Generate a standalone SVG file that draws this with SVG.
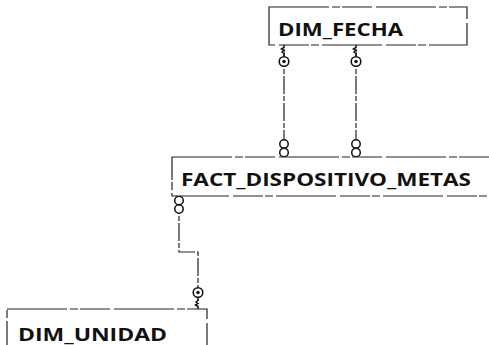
<svg xmlns="http://www.w3.org/2000/svg" width="489" height="345" viewBox="0 0 489 345">
<style>
.box{fill:#fff;stroke:#222;stroke-width:1.2;stroke-dasharray:60 3 8 2 30 4}
.lbl{font-family:"Open Sans","Liberation Sans",sans-serif;font-weight:bold;font-size:18px;fill:#111}
.ln{fill:none;stroke:#222;stroke-width:1.2;stroke-dasharray:18 2 5 2}
.sym{fill:#fff;stroke:#111;stroke-width:1.5}
.dot{fill:#111}
</style>
<defs>
<g id="keyDown">
<path class="sym" d="M0,0 v2.5 l-2.5,1.5 l2.5,1.5 l-2,1.5 l2,1.5 v3.5" fill="none"/>
<circle class="sym" cx="0" cy="16.5" r="4.8"/>
<circle class="dot" cx="0" cy="16.5" r="1.7"/>
</g>
<g id="many">
<circle class="sym" cx="0" cy="-13" r="4.2"/>
<circle class="sym" cx="0" cy="-4.5" r="4.3"/>
</g>
</defs>
<g id="connectors">
<path class="ln" d="M284,49 V157"/>
<path class="ln" d="M356,49 V157"/>
<path class="ln" d="M179,196 V252 H198 V292"/>
<use href="#keyDown" x="284" y="45"/>
<use href="#keyDown" x="356" y="45"/>
<use href="#many" x="284" y="157"/>
<use href="#many" x="356" y="157"/>
<g transform="translate(179,196) scale(1,-1)"><use href="#many"/></g>
<g transform="translate(198,309) scale(1,-1)"><use href="#keyDown"/></g>
</g>
<g id="dim_fecha">
<rect class="box" x="269" y="7" width="198" height="38"/>
<text class="lbl" x="278" y="36" textLength="125" lengthAdjust="spacingAndGlyphs">DIM_FECHA</text>
</g>
<g id="fact_dispositivo_metas">
<rect class="box" x="172" y="157" width="330" height="39"/>
<text class="lbl" x="181" y="186" textLength="290" lengthAdjust="spacingAndGlyphs">FACT_DISPOSITIVO_METAS</text>
</g>
<g id="dim_unidad">
<rect class="box" x="7" y="309" width="200" height="50"/>
<text class="lbl" x="18" y="341" textLength="149" lengthAdjust="spacingAndGlyphs">DIM_UNIDAD</text>
</g>
</svg>
